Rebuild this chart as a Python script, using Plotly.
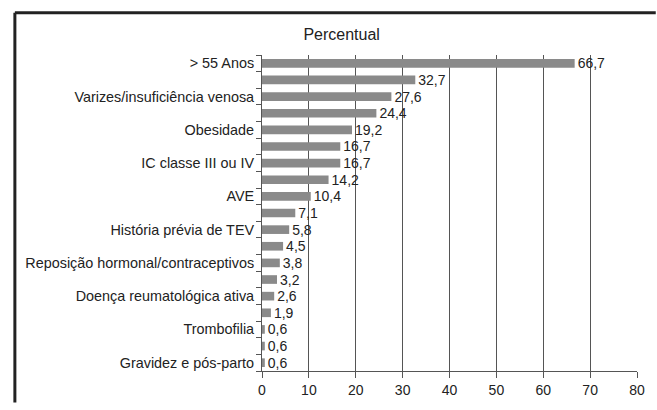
import plotly.graph_objects as go

# Risk factors, top to bottom; only every other row carries a printed label
labels = [
    "> 55 Anos", "", "Varizes/insuficiência venosa", "", "Obesidade", "",
    "IC classe III ou IV", "", "AVE", "", "História prévia de TEV", "",
    "Reposição hormonal/contraceptivos", "", "Doença reumatológica ativa", "",
    "Trombofilia", "", "Gravidez e pós-parto",
]
percent = [66.7, 32.7, 27.6, 24.4, 19.2, 16.7, 16.7, 14.2, 10.4, 7.1,
           5.8, 4.5, 3.8, 3.2, 2.6, 1.9, 0.6, 0.6, 0.6]
x_ticks = [0, 10, 20, 30, 40, 50, 60, 70, 80]

rows = list(range(len(percent)))
labelled = [i for i, t in enumerate(labels) if t]

font = "Liberation Sans, Arial, sans-serif"

fig = go.Figure(go.Bar(
    x=percent,
    y=rows,
    orientation="h",
    width=0.52,
    marker=dict(color="#8a8a8a", line=dict(width=0)),
    texttemplate="%{x:.1f}",
    textposition="outside",
    constraintext="none",
    cliponaxis=False,
    textfont=dict(family=font, size=14, color="#222222"),
    hoverinfo="skip",
))

fig.update_layout(
    width=657, height=410,
    margin=dict(l=262, r=14, t=55, b=27),
    paper_bgcolor="white", plot_bgcolor="white",
    separators=",.",
    showlegend=False,
    title=dict(text="Percentual", x=0.52, xanchor="center", y=0.917, yanchor="middle",
               font=dict(family=font, size=16, color="#222222")),
    xaxis=dict(
        range=[0, 80], tickmode="array", tickvals=x_ticks,
        showgrid=True, gridcolor="#555555", gridwidth=1,
        zeroline=False, showline=True, linecolor="#555555", linewidth=1,
        ticks="outside", ticklen=6, tickcolor="#555555",
        tickfont=dict(family=font, size=14, color="#222222"),
    ),
    yaxis=dict(
        range=[len(percent) - 0.5, -0.5],
        tickmode="array", tickvals=labelled,
        ticktext=[labels[i] for i in labelled],
        showgrid=False, zeroline=False,
        showline=True, linecolor="#555555", linewidth=1,
        ticks="outside", ticklen=4, tickcolor="rgba(0,0,0,0)",
        tickfont=dict(family=font, size=14.4, color="#222222"),
        minor=dict(tickvals=[i - 0.5 for i in range(len(percent) + 1)],
                   ticks="outside", ticklen=5, tickcolor="#555555",
                   showgrid=False),
    ),
    shapes=[
        # outer frame: left and top edges
        dict(type="line", xref="paper", yref="paper",
             x0=-0.659, x1=1.05, y0=1.134, y1=1.134,
             line=dict(color="#222222", width=3)),
        dict(type="line", xref="paper", yref="paper",
             x0=-0.659, x1=-0.659, y0=1.134, y1=-0.1,
             line=dict(color="#222222", width=3)),
    ],
)

fig.write_html("out.html")
